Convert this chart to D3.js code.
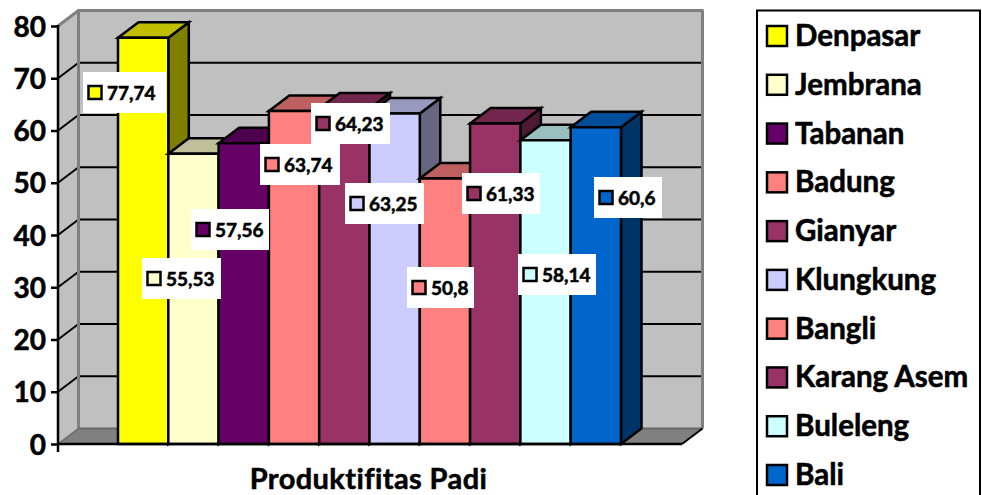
<!DOCTYPE html>
<html><head><meta charset="utf-8">
<script src="https://cdn.jsdelivr.net/npm/d3@7"></script>
<style>html,body{margin:0;padding:0;background:#fff;overflow:hidden}svg{display:block}text{font-family:Lato,"Open Sans",sans-serif;font-weight:700;fill:#000;stroke:#000;stroke-width:.55px}</style>
</head><body><svg id="c" width="982" height="495"></svg>
<script>
const categories=["Denpasar","Jembrana","Tabanan","Badung","Gianyar","Klungkung","Bangli","Karang Asem","Buleleng","Bali"];
const values=[77.74,55.53,57.56,63.74,64.23,63.25,50.8,61.33,58.14,60.6];
const valueLabels=["77,74","55,53","57,56","63,74","64,23","63,25","50,8","61,33","58,14","60,6"];
const colors=["#FFFF00","#FFFFCC","#660066","#FF8080","#993366","#CCCCFF","#FF8080","#993366","#CCFFFF","#0066CC"];
const yTicks=[0,10,20,30,40,50,60,70,80];
const axisTitle="Produktifitas Padi";
// manually placed data-label boxes, as in the source chart: [left, top, width]
const labelBoxes=[[83,72,83],[142,258,79],[191,209,78],[260,144,80],[311,103,79],[345,183,79],[407,267,67],[462,173,78],[518,254,78],[594,177,68]];

const svg=d3.select("#c");
const DX=20.5,DY=15.5;
const y=d3.scaleLinear().domain([0,80]).range([444,26]);
const xAxisStart=58,xAxisEnd=682;
const x=d3.scaleBand().domain(categories).range([118,621]).padding(0);
const poly=(pts,fill,stroke,sw)=>svg.append("polygon").attr("points",pts.map(p=>p.join(",")).join(" ")).attr("fill",fill).attr("stroke",stroke||"none").attr("stroke-width",sw||0).attr("stroke-linejoin","miter");
const line=(x1,y1,x2,y2,c,w)=>svg.append("line").attr("x1",x1).attr("y1",y1).attr("x2",x2).attr("y2",y2).attr("stroke",c).attr("stroke-width",w);

// walls
const y0=y(0),yT=y(80);
poly([[xAxisStart+DX,yT-DY],[xAxisEnd+DX,yT-DY],[xAxisEnd+DX,y0-DY],[xAxisStart+DX,y0-DY]],"#C0C0C0");
poly([[xAxisStart,yT],[xAxisStart+DX,yT-DY],[xAxisStart+DX,y0-DY],[xAxisStart,y0]],"#C0C0C0");
poly([[xAxisStart,y0],[xAxisEnd,y0],[xAxisEnd+DX,y0-DY],[xAxisStart+DX,y0-DY]],"#808080");
// grid
yTicks.slice(1,-1).forEach(t=>{
  line(xAxisStart,y(t),xAxisStart+DX,y(t)-DY,"#000",2);
  line(xAxisStart+DX,y(t)-DY,xAxisEnd+DX,y(t)-DY,"#000",2);
});
// wall edges
line(xAxisStart,yT,xAxisStart+DX,yT-DY,"#808080",3);
line(xAxisStart+DX-1,yT-DY,xAxisEnd+DX+1,yT-DY,"#808080",3);
line(xAxisStart+DX,yT-DY,xAxisStart+DX,y0-DY,"#808080",3);
line(xAxisEnd+DX,yT-DY,xAxisEnd+DX,y0-DY,"#808080",3);
line(xAxisStart+DX,y0-DY,xAxisEnd+DX,y0-DY,"#666",2);
line(xAxisStart,y0,xAxisStart+DX,y0-DY,"#666",1.5);
line(xAxisEnd,y0,xAxisEnd+DX,y0-DY,"#000",2);

// bars
categories.forEach((c,i)=>{
  const l=x(c),r=l+x.bandwidth(),t=y(values[i]),b=y0;
  const col=d3.color(colors[i]);
  const shade=k=>d3.rgb(col.r*k,col.g*k,col.b*k).formatHex();
  poly([[r,t],[r+DX,t-DY],[r+DX,b-DY],[r,b]],shade(0.5),"#000",2.5);
  poly([[l,t],[l+DX,t-DY],[r+DX,t-DY],[r,t]],shade(0.75),"#000",2.5);
  poly([[l,t],[r,t],[r,b],[l,b]],colors[i],"#000",2.5);
});

// axes
const yAxis=d3.axisLeft(y).tickValues(yTicks).tickSize(7).tickPadding(5).tickFormat(d3.format("d"));
const ax=svg.append("g").attr("transform",`translate(${xAxisStart},0)`).call(yAxis);
ax.select(".domain").remove();
ax.selectAll("line").attr("stroke","#000").attr("stroke-width",2.5);
ax.selectAll("text").style("font-size","28px").attr("dy","0.36em");
line(xAxisStart,yT-1,xAxisStart,y0+8,"#000",2.5);
line(xAxisStart,y0,xAxisEnd,y0,"#000",2.5);
svg.append("text").attr("x",368.5).attr("y",489).attr("text-anchor","middle").style("font-size","29px").style("letter-spacing","0.4px").text(axisTitle);

// data labels
labelBoxes.forEach((b,i)=>{
  const [bx,by,bw]=b,bh=41;
  svg.append("rect").attr("x",bx).attr("y",by).attr("width",bw).attr("height",bh).attr("fill","#fff");
  svg.append("rect").attr("x",bx+5.5).attr("y",by+bh/2-6.5).attr("width",13).attr("height",13).attr("fill",colors[i]).attr("stroke","#000").attr("stroke-width",2.5);
  svg.append("text").attr("x",bx+24).attr("y",by+bh/2+7).style("font-size","19px").text(valueLabels[i]);
});

// legend
const ly=d3.scalePoint().domain(categories).range([36,475]);
svg.append("rect").attr("x",757).attr("y",10.5).attr("width",223).attr("height",495).attr("fill","#fff").attr("stroke","#000").attr("stroke-width",2);
categories.forEach((c,i)=>{
  svg.append("rect").attr("x",767).attr("y",ly(c)-10).attr("width",20).attr("height",20).attr("fill",colors[i]).attr("stroke","#000").attr("stroke-width",2.5);
  svg.append("text").attr("x",795).attr("y",ly(c)+10).style("font-size","29.5px").text(c);
});
</script></body></html>
